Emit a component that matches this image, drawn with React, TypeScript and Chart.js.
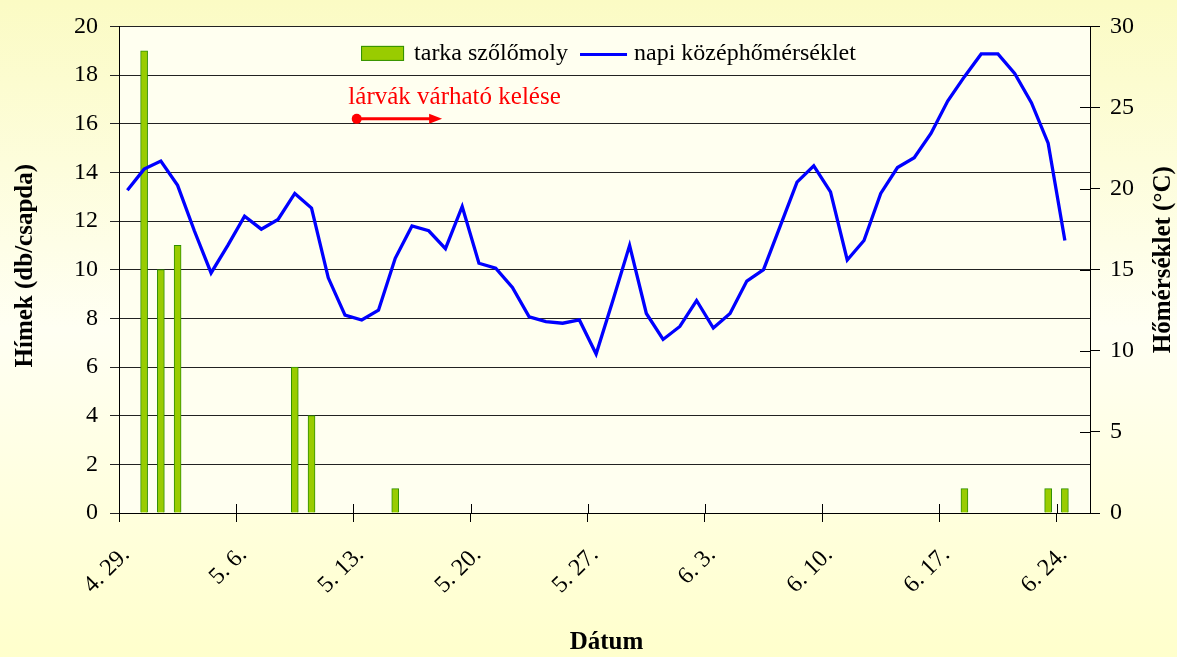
import React, { useEffect, useRef } from 'react';
import { Chart, registerables } from 'chart.js';

Chart.register(...registerables);

// ---- data ----
// x axis: one slot per day, 4.29. ... 6.25. (58 days); ticks every 7 days
const xTickLabels = ['4. 29.', '5. 6.', '5. 13.', '5. 20.', '5. 27.', '6. 3.', '6. 10.', '6. 17.', '6. 24.'];
const dayCount = 58;
const tickStepDays = 7;

// napi középhőmérséklet (°C), from 4.29. to 6.24.
const temperature = [
  19.9, 21.2, 21.7, 20.2, 17.4, 14.8, 16.5, 18.3, 17.5, 18.1,
  19.7, 18.8, 14.5, 12.2, 11.9, 12.5, 15.7, 17.7, 17.4, 16.3,
  18.9, 15.4, 15.1, 13.9, 12.1, 11.8, 11.7, 11.9, 9.8, 13.1,
  16.5, 12.3, 10.7, 11.5, 13.1, 11.4, 12.3, 14.3, 15.0, 17.7,
  20.4, 21.4, 19.8, 15.6, 16.8, 19.7, 21.3, 21.9, 23.4, 25.4,
  26.9, 28.3, 28.3, 27.1, 25.3, 22.8, 16.8,
];

// tarka szőlőmoly hímek (db/csapda), from 4.29. to 6.24.
const males = [
  0, 19, 10, 11, 0, 0, 0, 0, 0, 0,
  6, 4, 0, 0, 0, 0, 1, 0, 0, 0,
  0, 0, 0, 0, 0, 0, 0, 0, 0, 0,
  0, 0, 0, 0, 0, 0, 0, 0, 0, 0,
  0, 0, 0, 0, 0, 0, 0, 0, 0, 0,
  1, 0, 0, 0, 0, 1, 1,
];

const leftAxis = { min: 0, max: 20, step: 2 };
const rightAxis = { min: 0, max: 30, step: 5 };

const seriesNames = ['tarka szőlőmoly', 'napi középhőmérséklet'];
const leftTitle = 'Hímek (db/csapda)';
const rightTitle = 'Hőmérséklet (°C)';
const bottomTitle = 'Dátum';

// annotation, in data units (day index on x, left axis value on y)
const annotationText = 'lárvák várható kelése';
const annotationTextAt = { x: 13.7, y: 17.1 };
const annotationArrow = { xStart: 14.2, xEnd: 19.3, y: 16.2 };

const SERIF = '"Liberation Serif", "Times New Roman", Times, serif';
const BAR_FILL = '#99CC00';
const BAR_BORDER = '#2F8F00';
const LINE_COLOR = '#0000FF';

const backgroundPlugin = {
  id: 'bgPlugin',
  beforeDraw(chart: any) {
    const { ctx, width, height, chartArea: ca } = chart;
    ctx.save();
    const g = ctx.createLinearGradient(0, 0, 0, height);
    g.addColorStop(0, '#FBFBC4');
    g.addColorStop(0.5, '#FFFFF3');
    g.addColorStop(1, '#FFFFCC');
    ctx.fillStyle = g;
    ctx.fillRect(0, 0, width, height);
    ctx.fillStyle = '#FFFFF0';
    ctx.fillRect(ca.left, ca.top, ca.right - ca.left, ca.bottom - ca.top);
    ctx.restore();
  },
};

const innerTicksPlugin = {
  id: 'innerTicks',
  afterDraw(chart: any) {
    const { ctx, chartArea: ca, scales } = chart;
    ctx.save();
    ctx.strokeStyle = '#000';
    ctx.lineWidth = 1;
    ctx.beginPath();
    scales.x.ticks.forEach((t: any) => {
      const px = Math.round(scales.x.getPixelForValue(t.value)) + 0.5;
      ctx.moveTo(px, ca.bottom - 9);
      ctx.lineTo(px, ca.bottom);
    });
    scales.y1.ticks.forEach((t: any) => {
      const py = Math.round(scales.y1.getPixelForValue(t.value)) + 0.5;
      ctx.moveTo(ca.right - 10, py);
      ctx.lineTo(ca.right, py);
    });
    ctx.stroke();
    ctx.restore();
  },
};

const titlesPlugin = {
  id: 'titles',
  afterDraw(chart: any) {
    const { ctx, chartArea: ca, width } = chart;
    ctx.save();
    ctx.fillStyle = '#000';
    ctx.font = `bold 25px ${SERIF}`;
    ctx.textAlign = 'center';
    ctx.textBaseline = 'middle';
    const midY = (ca.top + ca.bottom) / 2;
    ctx.save();
    ctx.translate(26, midY - 4);
    ctx.rotate(-Math.PI / 2);
    ctx.fillText(leftTitle, 0, 0);
    ctx.restore();
    ctx.save();
    ctx.translate(width - 13, midY - 10);
    ctx.rotate(-Math.PI / 2);
    ctx.fillText(rightTitle, 0, 0);
    ctx.restore();
    ctx.fillText(bottomTitle, (ca.left + ca.right) / 2 + 2, 643);
    ctx.restore();
  },
};

const legendPlugin = {
  id: 'customLegend',
  afterDraw(chart: any) {
    const { ctx, chartArea: ca } = chart;
    ctx.save();
    ctx.font = `24px ${SERIF}`;
    ctx.textBaseline = 'middle';
    ctx.textAlign = 'left';
    const boxW = 43, boxH = 15, gap1 = 10, gapMid = 12, lineW = 47, gap2 = 7;
    const w1 = ctx.measureText(seriesNames[0]).width;
    const w2 = ctx.measureText(seriesNames[1]).width;
    const total = boxW + gap1 + w1 + gapMid + lineW + gap2 + w2;
    const cy = ca.top + 27;
    let x = (ca.left + ca.right) / 2 + 4 - total / 2;
    ctx.fillStyle = BAR_FILL;
    ctx.fillRect(x, cy - boxH / 2, boxW, boxH);
    ctx.strokeStyle = BAR_BORDER;
    ctx.lineWidth = 1;
    ctx.strokeRect(x + 0.5, cy - boxH / 2 + 0.5, boxW - 1, boxH - 1);
    x += boxW + gap1;
    ctx.fillStyle = '#000';
    ctx.fillText(seriesNames[0], x, cy);
    x += w1 + gapMid;
    ctx.strokeStyle = LINE_COLOR;
    ctx.lineWidth = 3;
    ctx.beginPath();
    ctx.moveTo(x, cy + 1);
    ctx.lineTo(x + lineW, cy + 1);
    ctx.stroke();
    x += lineW + gap2;
    ctx.fillStyle = '#000';
    ctx.fillText(seriesNames[1], x, cy);
    ctx.restore();
  },
};

const annotationPlugin = {
  id: 'larvaAnnotation',
  afterDraw(chart: any) {
    const { ctx, scales } = chart;
    const xs = scales.x, ys = scales.y;
    ctx.save();
    ctx.fillStyle = '#FF0000';
    ctx.strokeStyle = '#FF0000';
    ctx.font = `25px ${SERIF}`;
    ctx.textAlign = 'left';
    ctx.textBaseline = 'middle';
    ctx.fillText(annotationText, xs.getPixelForValue(annotationTextAt.x), ys.getPixelForValue(annotationTextAt.y));
    const x0 = xs.getPixelForValue(annotationArrow.xStart);
    const x1 = xs.getPixelForValue(annotationArrow.xEnd);
    const y = ys.getPixelForValue(annotationArrow.y);
    ctx.beginPath();
    ctx.arc(x0, y, 5, 0, Math.PI * 2);
    ctx.fill();
    ctx.lineWidth = 3;
    ctx.beginPath();
    ctx.moveTo(x0, y);
    ctx.lineTo(x1 - 10, y);
    ctx.stroke();
    ctx.beginPath();
    ctx.moveTo(x1, y);
    ctx.lineTo(x1 - 13, y - 5);
    ctx.lineTo(x1 - 13, y + 5);
    ctx.closePath();
    ctx.fill();
    ctx.restore();
  },
};

export default function App() {
  const canvasRef = useRef<HTMLCanvasElement | null>(null);

  useEffect(() => {
    const canvas = canvasRef.current;
    if (!canvas) return;
    const tickFont = { family: SERIF, size: 24 };
    const chart = new Chart(canvas, {
      type: 'bar',
      data: {
        datasets: [
          {
            type: 'line',
            label: seriesNames[1],
            data: temperature.map((v, i) => ({ x: i + 0.5, y: v })),
            yAxisID: 'y1',
            xAxisID: 'x',
            borderColor: LINE_COLOR,
            borderWidth: 3.3,
            pointRadius: 0,
            tension: 0,
            fill: false,
            order: 0,
          } as any,
          {
            type: 'bar',
            label: seriesNames[0],
            data: males.map((v, i) => ({ x: i + 0.5, y: v > 0 ? v : null })),
            yAxisID: 'y',
            xAxisID: 'x',
            backgroundColor: BAR_FILL,
            borderColor: BAR_BORDER,
            borderWidth: 1,
            barThickness: 7,
            order: 1,
          } as any,
        ],
      },
      options: {
        animation: false,
        responsive: false,
        maintainAspectRatio: false,
        layout: { padding: { top: 24, left: 0, right: 0, bottom: 0 } },
        plugins: { legend: { display: false }, tooltip: { enabled: false } },
        scales: {
          x: {
            type: 'linear',
            position: 'bottom',
            min: 0,
            max: dayCount,
            offset: false,
            afterFit: (s: any) => { s.height = 144; },
            grid: { display: true, offset: false, drawOnChartArea: false, drawTicks: true, tickLength: 9, color: '#000', lineWidth: 1 },
            border: { display: true, color: '#000', width: 1 },
            ticks: {
              stepSize: tickStepDays,
              includeBounds: false,
              autoSkip: false,
              maxRotation: 45,
              minRotation: 45,
              padding: 19,
              labelOffset: 7,
              color: '#000',
              font: tickFont,
              callback: (v: any) => {
                const idx = Math.round(Number(v) / tickStepDays);
                return Number(v) % tickStepDays === 0 && xTickLabels[idx] ? xTickLabels[idx] : '';
              },
            },
          },
          y: {
            position: 'left',
            min: leftAxis.min,
            max: leftAxis.max,
            afterFit: (s: any) => { s.width = 119; },
            grid: { color: '#222', lineWidth: 1, drawTicks: true, tickLength: 9 },
            border: { display: true, color: '#000', width: 1 },
            ticks: { stepSize: leftAxis.step, padding: 12, color: '#000', font: tickFont },
          },
          y1: {
            position: 'right',
            min: rightAxis.min,
            max: rightAxis.max,
            afterFit: (s: any) => { s.width = 87; },
            grid: { drawOnChartArea: false, drawTicks: true, tickLength: 10, color: '#000', lineWidth: 1 },
            border: { display: true, color: '#000', width: 1 },
            ticks: { stepSize: rightAxis.step, padding: 10, color: '#000', font: tickFont },
          },
        },
      } as any,
      plugins: [backgroundPlugin, innerTicksPlugin, titlesPlugin, legendPlugin, annotationPlugin],
    });
    return () => chart.destroy();
  }, []);

  return (
    <div style={{ position: 'fixed', left: 0, top: 0, width: 1177, height: 657 }}>
      <canvas ref={canvasRef} width={1177} height={657} style={{ display: 'block', width: 1177, height: 657 }} />
    </div>
  );
}
